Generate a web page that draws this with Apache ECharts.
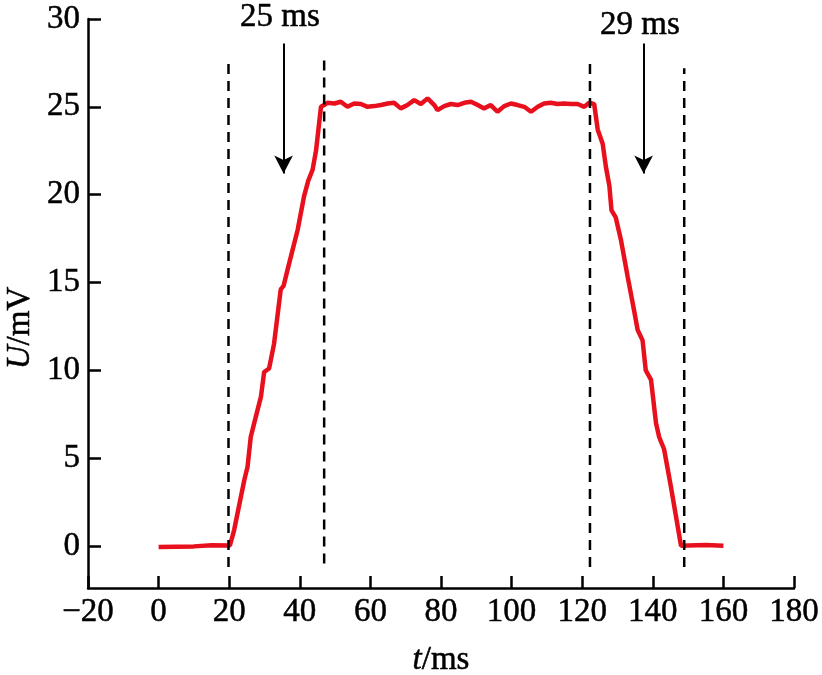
<!DOCTYPE html>
<html>
<head>
<meta charset="utf-8">
<script src="https://cdn.jsdelivr.net/npm/echarts@6/dist/echarts.min.js"></script>
<style>
html,body{margin:0;padding:0;background:#fff;}
#chart{width:822px;height:675px;}
</style>
</head>
<body>
<div id="chart"></div>
<script>
// ---- data ----
var timeMs = [0, 5, 10, 15, 20.2, 21.4, 24.3, 25.2, 26.1, 27.1, 29.0, 29.9, 31.3, 32.7, 34.6, 35.4, 36.5, 39.4, 41.2, 42.4, 43.6, 44.6, 46.0, 46.9,
  47.8, 49.8, 51.6, 53.5, 55.4, 57.3, 59.2, 61.1, 63.0, 64.9, 66.7, 68.6, 70.5, 72.4, 74.3, 76.2, 78.1, 79.0, 80.9, 82.8, 84.7, 86.6, 88.5,
  90.4, 92.2, 94.1, 96.0, 97.9, 99.8, 101.7, 103.6, 105.5, 107.4, 109.2, 111.1, 113.0, 114.9, 116.8, 118.7, 120.6, 122.0, 123.4,
  124.4, 125.8, 126.7, 127.7, 128.3, 129.5, 131.0, 132.9, 134.7, 135.7, 137.1, 138.0, 139.5, 140.9, 141.8, 143.2, 145.1, 148.0, 150, 155, 160];
var voltageMv = [-0.07, -0.05, -0.03, 0.03, 0.02, 0.9, 3.76, 4.5, 6.2, 7.0, 8.5, 9.9, 10.1, 11.5, 14.6, 14.8, 15.7, 18.0, 19.9, 20.8, 21.4, 22.5, 25.0, 25.1,
  25.23, 25.19, 25.29, 25.0, 25.19, 25.16, 25.0, 25.04, 25.10, 25.19, 25.23, 24.91, 25.10, 25.38, 25.16, 25.48, 25.10, 24.81, 25.04, 25.16, 25.10, 25.23, 25.29,
  25.10, 24.91, 25.10, 24.72, 25.04, 25.19, 25.10, 25.0, 24.72, 25.0, 25.19, 25.23, 25.16, 25.19, 25.16, 25.16, 25.0, 25.23, 25.15,
  23.7, 22.9, 21.6, 20.5, 19.1, 18.7, 17.4, 15.3, 13.4, 12.3, 11.7, 10.0, 9.45, 7.0, 6.2, 5.5, 3.4, 0.0, 0.02, 0.05, 0.0];

var dashT = [19.8, 46.9, 122.2, 148.9];
var dashTop = [27.5, 28.0, 27.5, 27.2];
var dashBottom = [-1.2, -1.0, -1.2, -1.2];

var arrowT = [35.4, 137.4];
var arrowFrom = [28.6, 28.6];
var arrowTo = [21.2, 21.2];
var arrowLabels = ['25 ms', '29 ms'];

var yTicks = [0, 5, 10, 15, 20, 25, 30];

// ---- chart ----
var FONT = '"Liberation Serif", "DejaVu Serif", serif';
var FS = 33;
var TB = 0.5; // slight stroke to match the heavier print weight
var chart = echarts.init(document.getElementById('chart'));

var series = [{
  type: 'line',
  data: timeMs.map(function (t, i) { return [t, voltageMv[i]]; }),
  showSymbol: false,
  symbol: 'none',
  lineStyle: { color: '#e8101c', width: 4.5 },
  z: 2
}];
dashT.forEach(function (t, i) {
  series.push({
    type: 'line',
    data: [[t, dashBottom[i]], [t, dashTop[i]]],
    symbol: 'none',
    lineStyle: { color: '#000', width: 2.5, type: [10, 7] },
    z: 3
  });
});
series.push({
  type: 'line',
  data: [],
  markLine: {
    silent: true,
    symbol: ['none', 'arrow'],
    symbolSize: [14, 18],
    lineStyle: { color: '#000', width: 2, type: 'solid' },
    label: { show: false },
    data: arrowT.map(function (t, i) {
      return [{ coord: [t, arrowFrom[i]] }, { coord: [t, arrowTo[i]] }];
    })
  }
});

function txt(extra) {
  var s = { fill: '#000', font: FS + 'px ' + FONT, align: 'center', verticalAlign: 'middle', stroke: '#000', lineWidth: TB };
  for (var k in extra) s[k] = extra[k];
  return s;
}
var italicRich = { i: { fontStyle: 'italic', fontFamily: FONT, fontSize: FS, fill: '#000', stroke: '#000', lineWidth: TB } };

chart.setOption({
  animation: false,
  backgroundColor: '#fff',
  grid: { left: 88, right: 28, top: 19, bottom: 87, containLabel: false },
  xAxis: {
    type: 'value',
    min: -20, max: 180, interval: 20,
    axisLine: { onZero: false, lineStyle: { color: '#000', width: 2.5 } },
    axisTick: { inside: true, length: 12, lineStyle: { color: '#000', width: 2.5 } },
    axisLabel: {
      color: '#000', fontFamily: FONT, fontSize: FS, margin: 8,
      textBorderColor: '#000', textBorderWidth: TB,
      formatter: function (v) { return v < 0 ? '\u2212' + Math.abs(v) : String(v); }
    },
    splitLine: { show: false }
  },
  yAxis: {
    type: 'value',
    min: -2.4, max: 30,
    axisLine: { show: true, onZero: false, lineStyle: { color: '#000', width: 2.5 } },
    axisTick: { show: true, inside: true, length: 13, customValues: yTicks, lineStyle: { color: '#000', width: 2.5 } },
    axisLabel: { color: '#000', fontFamily: FONT, fontSize: FS, margin: 8, customValues: yTicks,
      textBorderColor: '#000', textBorderWidth: TB },
    splitLine: { show: false }
  },
  graphic: [
    { type: 'text', x: 20, y: 328, rotation: Math.PI / 2,
      style: txt({ text: '{i|U}/mV', rich: italicRich }) },
    { type: 'text', x: 441, y: 660,
      style: txt({ text: '{i|t}/ms', rich: italicRich }) },
    { type: 'text', x: 280, y: 17, style: txt({ text: arrowLabels[0] }) },
    { type: 'text', x: 640, y: 25, style: txt({ text: arrowLabels[1] }) }
  ],
  series: series
});
</script>
</body>
</html>
